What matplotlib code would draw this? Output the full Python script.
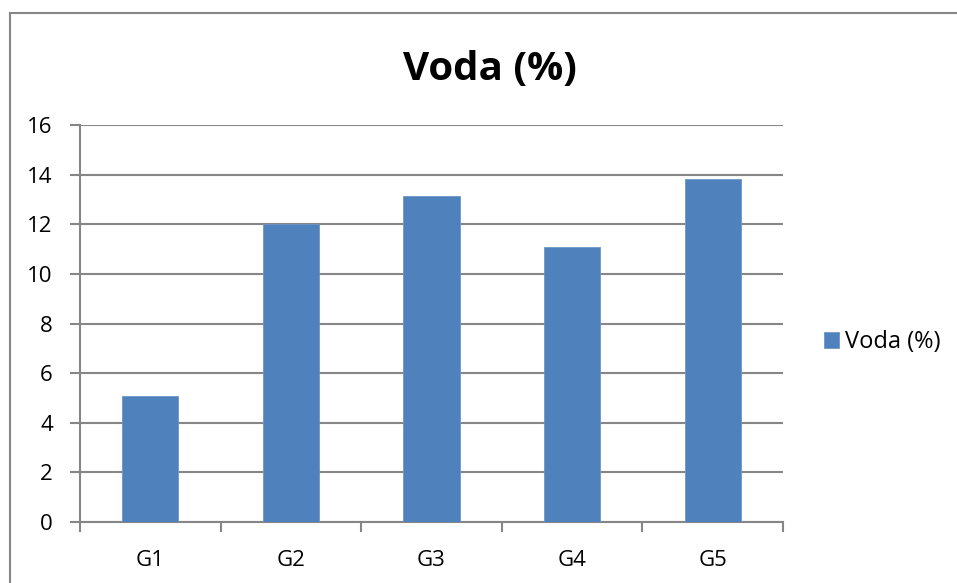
import matplotlib
matplotlib.use("Agg")
import matplotlib.pyplot as plt
from matplotlib.patches import Rectangle

categories = ["G1", "G2", "G3", "G4", "G5"]
values = [5.09, 12.0, 13.15, 11.1, 13.82]
series_name = "Voda (%)"
title = "Voda (%)"
yticks = [0, 2, 4, 6, 8, 10, 12, 14, 16]

plt.rcParams['font.family'] = ['Open Sans', 'DejaVu Sans']

W, H = 957, 583
fig = plt.figure(figsize=(W / 100, H / 100), dpi=100)
fig.patch.set_facecolor("white")

# outer chart border
fig.patches.append(Rectangle((10 / W, -0.05), 1.2, 1 - 13 / H + 0.05,
                             transform=fig.transFigure, fill=False,
                             edgecolor="#868686", linewidth=1.5))

left, right, top, bottom = 80 / W, 783 / W, 1 - 125 / H, 1 - 522 / H
ax = fig.add_axes([left, bottom, right - left, top - bottom])

x = list(range(len(categories)))
ax.bar(x, values, width=0.4, color="#4F81BD", edgecolor="#6D96C8",
       linewidth=0.6, label=series_name, zorder=3)

ax.set_xlim(-0.5, len(categories) - 0.5)
ax.set_ylim(0, 16)
ax.set_yticks(yticks)
ax.set_yticklabels([str(t) for t in yticks], fontsize=16)
ax.set_xticks(x)
ax.set_xticklabels(categories, fontsize=16)
ax.tick_params(axis="x", length=0, pad=20)
ax.tick_params(axis="y", length=7.5, width=1.5, color="#868686", pad=12)
# category boundary ticks
ax.set_xticks([i - 0.5 for i in range(len(categories) + 1)], minor=True)
ax.tick_params(axis="x", which="minor", length=7, width=1.5, color="#868686")

ax.grid(axis="y", color="#868686", linewidth=1.5, zorder=0)
for s in ["top", "right"]:
    ax.spines[s].set_visible(False)
for s in ["left", "bottom"]:
    ax.spines[s].set_color("#868686")
    ax.spines[s].set_linewidth(1.5)

fig.text(490 / W, 1 - 69 / H, title, fontsize=29, fontweight="bold",
         ha="center", va="center")

leg = ax.legend(loc="center left", bbox_to_anchor=(824 / W, 1 - 342 / H),
                bbox_transform=fig.transFigure, frameon=False,
                fontsize=17, handlelength=0.64, handleheight=0.64,
                handletextpad=0.25, borderpad=0, borderaxespad=0)

fig.savefig("out.png", dpi=100)
